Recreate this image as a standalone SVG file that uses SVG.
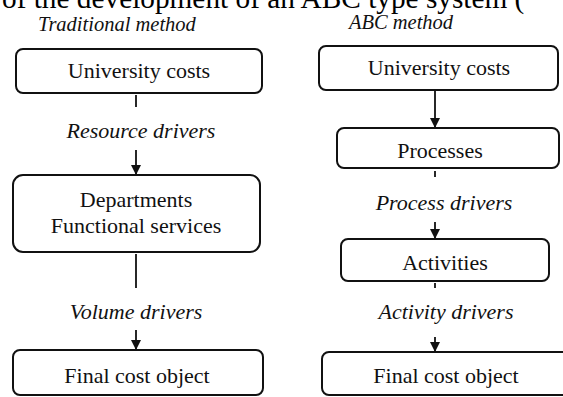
<svg xmlns="http://www.w3.org/2000/svg" width="563" height="397" viewBox="0 0 563 397">
  <style>
    .box { fill: #ffffff; stroke: #111111; stroke-width: 2; }
    .lbl { font-family: "Liberation Serif", "Times New Roman", serif; font-size: 22px; fill: #111111; text-anchor: middle; }
    .drv { font-family: "Liberation Serif", "Times New Roman", serif; font-size: 22px; font-style: italic; fill: #111111; text-anchor: middle; }
    .ttl { font-family: "Liberation Serif", "Times New Roman", serif; font-size: 20.5px; font-style: italic; fill: #111111; text-anchor: middle; }
    .head { font-family: "Liberation Serif", "Times New Roman", serif; font-size: 29.3px; fill: #000000; }
    .link { stroke: #111111; stroke-width: 1.8; fill: none; }
  </style>
  <defs>
    <marker id="arrow" markerUnits="userSpaceOnUse" markerWidth="12" markerHeight="12" viewBox="0 0 12 12" refX="10" refY="6" orient="auto">
      <path d="M0,1 L10,6 L0,11 Z" fill="#111111"/>
    </marker>
  </defs>

  <rect width="563" height="397" fill="#ffffff"/>

  <!-- heading line, clipped at the top edge -->
  <text class="head" x="2" y="8">of the development of an ABC type system (</text>

  <!-- column titles -->
  <text class="ttl" x="117" y="31">Traditional method</text>
  <text class="ttl" x="401" y="29">ABC method</text>

  <!-- connectors -->
  <g id="connectors">
    <line class="link" x1="136" y1="95" x2="136" y2="107"/>
    <line class="link" x1="136" y1="150" x2="136" y2="175" marker-end="url(#arrow)"/>
    <line class="link" x1="136" y1="254" x2="136" y2="288"/>
    <line class="link" x1="136" y1="330" x2="136" y2="350" marker-end="url(#arrow)"/>

    <line class="link" x1="435" y1="91" x2="435" y2="128" marker-end="url(#arrow)"/>
    <line class="link" x1="435" y1="171" x2="435" y2="177"/>
    <line class="link" x1="435" y1="222" x2="435" y2="239" marker-end="url(#arrow)"/>
    <line class="link" x1="435" y1="283" x2="435" y2="288"/>
    <line class="link" x1="435" y1="337" x2="435" y2="352" marker-end="url(#arrow)"/>
  </g>

  <!-- driver labels -->
  <text class="drv" x="141" y="138">Resource drivers</text>
  <text class="drv" x="136" y="319">Volume drivers</text>
  <text class="drv" x="444" y="210">Process drivers</text>
  <text class="drv" x="446" y="319">Activity drivers</text>

  <!-- traditional method nodes -->
  <g id="trad-costs">
    <rect class="box" x="16" y="49" width="246" height="44" rx="7"/>
    <text class="lbl" x="139" y="78">University costs</text>
  </g>
  <g id="trad-departments">
    <rect class="box" x="13" y="175" width="247" height="77" rx="10"/>
    <text class="lbl" x="136" y="207">Departments</text>
    <text class="lbl" x="136" y="233">Functional services</text>
  </g>
  <g id="trad-final">
    <rect class="box" x="13" y="350" width="250" height="45" rx="7"/>
    <text class="lbl" x="137" y="383">Final cost object</text>
  </g>

  <!-- ABC method nodes -->
  <g id="abc-costs">
    <rect class="box" x="319" y="46" width="239" height="44" rx="7"/>
    <text class="lbl" x="439" y="75">University costs</text>
  </g>
  <g id="abc-processes">
    <rect class="box" x="337" y="128" width="222" height="40" rx="7"/>
    <text class="lbl" x="440" y="158">Processes</text>
  </g>
  <g id="abc-activities">
    <rect class="box" x="341" y="239" width="208" height="42" rx="7"/>
    <text class="lbl" x="445" y="270">Activities</text>
  </g>
  <g id="abc-final">
    <rect class="box" x="322" y="352" width="250" height="43" rx="7"/>
    <text class="lbl" x="446" y="383">Final cost object</text>
  </g>
</svg>
